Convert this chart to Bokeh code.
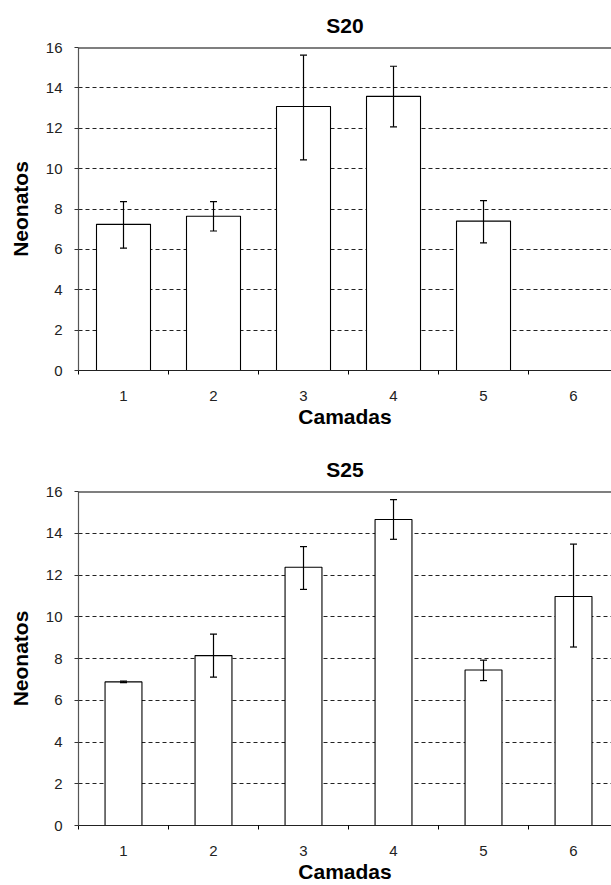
from bokeh.plotting import figure
from bokeh.models import (ColumnDataSource, Range1d, FixedTicker, Whisker, TeeHead, Span)
from bokeh.layouts import column
from bokeh.embed import file_html
from bokeh.resources import INLINE

# ---- data ----
camadas = [1, 2, 3, 4, 5, 6]
tick_labels = ["1", "2", "3", "4", "5", "6"]

s20_camada = [1, 2, 3, 4, 5]
s20_mean = [7.24, 7.64, 13.08, 13.58, 7.40]
s20_upper = [8.37, 8.37, 15.62, 15.07, 8.41]
s20_lower = [6.06, 6.91, 10.43, 12.07, 6.32]

s25_camada = [1, 2, 3, 4, 5, 6]
s25_mean = [6.88, 8.14, 12.37, 14.66, 7.45, 10.97]
s25_upper = [6.92, 9.17, 13.36, 15.61, 7.92, 13.48]
s25_lower = [6.84, 7.11, 11.31, 13.71, 6.94, 8.55]

y_ticks = [0, 2, 4, 6, 8, 10, 12, 14, 16]

FONT = "Liberation Sans"


def make_plot(title, xs, means, uppers, lowers, bar_width, height, border_top, border_bottom):
    p = figure(width=611, height=height, output_backend="svg", toolbar_location=None,
               x_range=Range1d(0.5, 6.422), y_range=Range1d(0, 16),
               min_border_left=78, min_border_right=0,
               min_border_top=border_top, min_border_bottom=border_bottom)
    p.title.text = title
    p.title.align = "center"
    p.title.text_font = FONT
    p.title.text_font_size = "21px"
    p.title.text_font_style = "bold"
    p.title.text_color = "black"
    p.title.standoff = 21
    p.outline_line_color = None
    p.background_fill_color = "white"

    # grid
    p.xgrid.grid_line_color = None
    p.ygrid.ticker = FixedTicker(ticks=y_ticks[1:-1])
    p.ygrid.grid_line_color = "#222222"
    p.ygrid.grid_line_dash = "4 3"
    p.ygrid.grid_line_width = 1

    # top border line
    p.add_layout(Span(location=16, dimension="width", line_color="black", line_width=2))

    src = ColumnDataSource(dict(x=xs, top=means, upper=uppers, lower=lowers))
    p.vbar(x="x", top="top", width=bar_width, source=src, fill_color="white",
           line_color="black", line_width=1.1)
    p.add_layout(Whisker(source=src, base="x", upper="upper", lower="lower",
                         level="overlay",
                         line_color="black", line_width=1.2,
                         upper_head=TeeHead(size=7, line_color="black", line_width=1.2),
                         lower_head=TeeHead(size=7, line_color="black", line_width=1.2)))

    # x axis: labels at centers, ticks at boundaries
    p.xaxis.ticker = FixedTicker(ticks=camadas, minor_ticks=[0.5, 1.5, 2.5, 3.5, 4.5, 5.5, 6.5])
    p.xaxis.major_label_overrides = {c: l for c, l in zip(camadas, tick_labels)}
    p.xaxis.major_tick_out = 0
    p.xaxis.major_tick_in = 0
    p.xaxis.minor_tick_out = 4
    p.xaxis.minor_tick_in = 0
    p.xaxis.minor_tick_line_color = "black"
    p.xaxis.axis_line_color = "#222222"
    p.xaxis.axis_line_width = 1.2
    p.xaxis.major_label_text_font = FONT
    p.xaxis.major_label_text_font_size = "15px"
    p.xaxis.major_label_text_color = "#222222"
    p.xaxis.major_label_standoff = 16
    p.xaxis.axis_label = "Camadas"
    p.xaxis.axis_label_text_font = FONT
    p.xaxis.axis_label_text_font_size = "21px"
    p.xaxis.axis_label_text_font_style = "bold"
    p.xaxis.axis_label_text_color = "black"
    p.xaxis.axis_label_standoff = 1

    # y axis
    p.yaxis.ticker = FixedTicker(ticks=y_ticks)
    p.yaxis.minor_tick_line_color = None
    p.yaxis.major_tick_out = 4
    p.yaxis.major_tick_in = 0
    p.yaxis.major_tick_line_color = "#333333"
    p.yaxis.axis_line_color = "#555555"
    p.yaxis.axis_line_width = 1.2
    p.yaxis.major_label_text_font = FONT
    p.yaxis.major_label_text_font_size = "15px"
    p.yaxis.major_label_text_color = "#222222"
    p.yaxis.major_label_standoff = 12
    p.yaxis.axis_label = "Neonatos"
    p.yaxis.axis_label_text_font = FONT
    p.yaxis.axis_label_text_font_size = "21px"
    p.yaxis.axis_label_text_font_style = "bold"
    p.yaxis.axis_label_text_color = "black"
    p.yaxis.axis_label_standoff = 11
    return p


p1 = make_plot("S20", s20_camada, s20_mean, s20_upper, s20_lower, 0.6, 440, 47, 70)
p2 = make_plot("S25", s25_camada, s25_mean, s25_upper, s25_lower, 0.41, 445, 51, 55)

layout = column(p1, p2, spacing=0)
open("out.html", "w").write(file_html(layout, INLINE))
